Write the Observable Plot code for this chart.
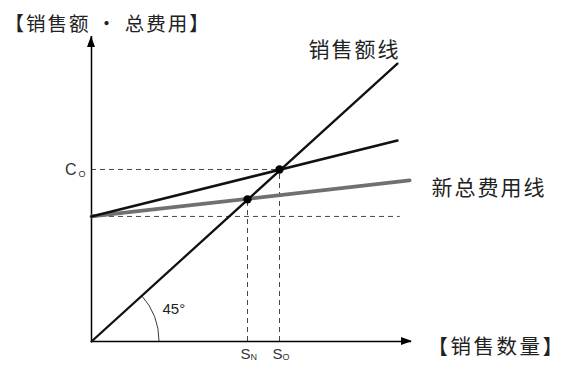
<!DOCTYPE html>
<html>
<head>
<meta charset="utf-8">
<script src="https://cdn.jsdelivr.net/npm/d3@7"></script>
<script src="https://cdn.jsdelivr.net/npm/@observablehq/plot@0.6"></script>
<style>
  html, body { margin: 0; padding: 0; background: #fff; }
  #chart svg { display: block; }
</style>
</head>
<body>
<div id="chart"></div>
<script>
// ---- data (quantity 0..100, value 0..100) ----
const salesQ = [0, 95.6];
const salesV = [0, 91.1];
const oldCostQ = [0, 95.6];
const oldCostV = [41, 65.9];
const newCostQ = [0, 99.4];
const newCostV = [41, 52.8];
const fixedCost = 41;
const fixedGuideEnd = 96.5;
const breakEvenNames = ["O", "N"];
const breakEvenQ = [58.75, 48.75];
const breakEvenV = [56.4, 46.6];
const angleLabel = "45°";
const yTitle = "【销售额 ・ 总费用】";
const xTitle = "【销售数量】";
const salesLabel = "销售额线";
const newCostLabel = "新总费用线";

const toPts = (qs, vs) => qs.map((q, i) => ({q, v: vs[i]}));
const sales = toPts(salesQ, salesV);
const oldCost = toPts(oldCostQ, oldCostV);
const newCost = toPts(newCostQ, newCostV);
const be = breakEvenNames.map((n, i) => ({n, q: breakEvenQ[i], v: breakEvenV[i]}));

const font = "'Noto Sans CJK SC', 'Noto Sans', sans-serif";
const latin = "'Liberation Sans', Arial, sans-serif";

// custom decorations: arrow heads and the 45° arc
function decorations(index, scales, values, dimensions) {
  const x = scales.x, y = scales.y;
  const ox = x(0), oy = y(0);
  const g = d3.create("svg:g");
  const top = dimensions.marginTop;
  const right = dimensions.width - dimensions.marginRight;
  g.append("path").attr("d", `M${ox},${top} L${ox - 4},${top + 11} L${ox + 4},${top + 11} Z`).attr("fill", "#000");
  g.append("path").attr("d", `M${right + 1},${oy} L${right - 10},${oy - 4} L${right - 10},${oy + 4} Z`).attr("fill", "#000");
  const ex = x(sales[1].q) - ox, ey = y(sales[1].v) - oy;
  const a = Math.atan2(ey, ex);
  const r = 68;
  g.append("path")
    .attr("d", `M${ox + r * Math.cos(a)},${oy + r * Math.sin(a)} A${r},${r} 0 0 1 ${ox + r},${oy}`)
    .attr("fill", "none").attr("stroke", "#222").attr("stroke-width", 0.9);
  return g.node();
}

const plot = Plot.plot({
  width: 566,
  height: 365,
  marginLeft: 91,
  marginRight: 155,
  marginTop: 36,
  marginBottom: 24,
  x: {domain: [0, 100], axis: null},
  y: {domain: [0, 100], axis: null},
  style: {background: "#fff", fontFamily: font},
  marks: [
    Plot.ruleY([fixedCost], {x1: 0, x2: fixedGuideEnd, stroke: "#333", strokeWidth: 0.9, strokeDasharray: "5,4"}),
    Plot.ruleY(be.filter(d => d.n === "O"), {y: "v", x1: 0, x2: "q", stroke: "#333", strokeWidth: 0.9, strokeDasharray: "5,4"}),
    Plot.ruleX(be, {x: "q", y1: 0, y2: "v", stroke: "#333", strokeWidth: 0.9, strokeDasharray: "5,4"}),
    Plot.ruleX([0], {y1: 0, y2: 100, stroke: "#000", strokeWidth: 1.5}),
    Plot.ruleY([0], {x1: 0, x2: 100, stroke: "#000", strokeWidth: 1.5}),
    decorations,
    Plot.line(newCost, {x: "q", y: "v", stroke: "#707070", strokeWidth: 3.8}),
    Plot.line(oldCost, {x: "q", y: "v", stroke: "#111", strokeWidth: 2.5}),
    Plot.line(sales, {x: "q", y: "v", stroke: "#111", strokeWidth: 2.3}),
    Plot.dot(be, {x: "q", y: "v", r: 4.2, fill: "#000"}),
    Plot.text(be.filter(d => d.n === "O"), {x: 0, y: "v", text: () => "C", textAnchor: "end", dx: -15, fontSize: 16, fontFamily: latin, fill: "#333"}),
    Plot.text(be.filter(d => d.n === "O"), {x: 0, y: "v", text: "n", textAnchor: "start", dx: -13, dy: 5, fontSize: 9, fontFamily: latin, fill: "#333"}),
    Plot.text(be, {x: "q", y: 0, text: () => "S", textAnchor: "end", dx: 3, dy: 13, fontSize: 15, fontFamily: latin, fill: "#333"}),
    Plot.text(be, {x: "q", y: 0, text: "n", textAnchor: "start", dx: 3, dy: 16, fontSize: 9, fontFamily: latin, fill: "#333"}),
    Plot.text([angleLabel], {frameAnchor: "bottom-left", textAnchor: "start", dx: 71, dy: -28, fontSize: 15, fontFamily: latin, fill: "#222"}),
    Plot.text([yTitle], {frameAnchor: "top-left", textAnchor: "start", dx: -87, dy: -19.5, fontSize: 19.5, fill: "#222"}),
    Plot.text([salesLabel], {frameAnchor: "top-left", textAnchor: "start", dx: 217, dy: 6, fontSize: 21, fill: "#222"}),
    Plot.text([newCostLabel], {frameAnchor: "top-left", textAnchor: "start", dx: 340, dy: 144, fontSize: 21, fill: "#222"}),
    Plot.text([xTitle], {frameAnchor: "top-left", textAnchor: "start", dx: 336, dy: 303, fontSize: 20.5, fill: "#222"})
  ]
});
const spacing = new Map([[yTitle, 2], [xTitle, 2.5], [salesLabel, 2], [newCostLabel, 2]]);
d3.select(plot).selectAll("text").each(function() {
  const s = spacing.get(this.textContent);
  if (s != null) this.setAttribute("letter-spacing", s);
});
document.getElementById("chart").appendChild(plot);
</script>
</body>
</html>
